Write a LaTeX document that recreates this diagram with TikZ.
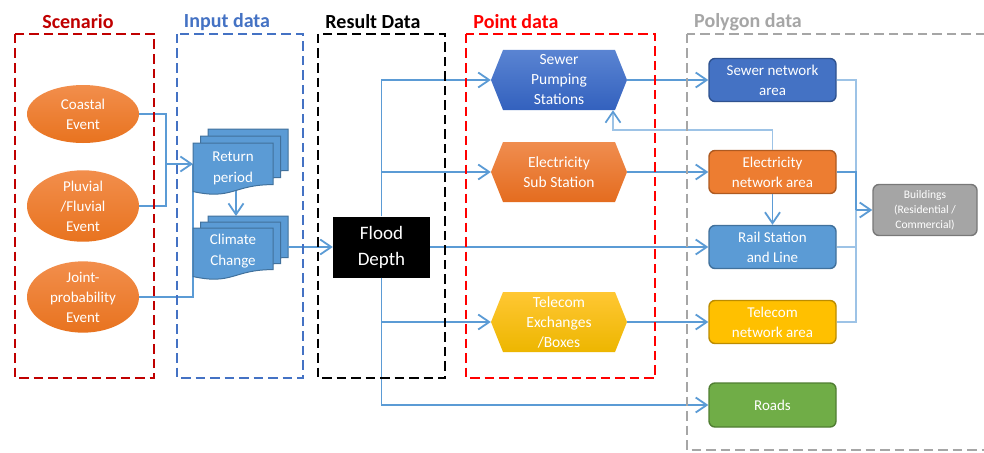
\documentclass[tikz,border=0pt]{standalone}
\usepackage{fontspec}
\setmainfont{Carlito}
\usetikzlibrary{arrows.meta,shapes.geometric,backgrounds}
\definecolor{scred}{HTML}{C00000}
\definecolor{inblue}{HTML}{4472C4}
\definecolor{ptred}{HTML}{FF0000}
\definecolor{pgray}{HTML}{A6A6A6}
\definecolor{lineblue}{HTML}{5B9BD5}
\definecolor{lightline}{HTML}{9DC3E6}
\definecolor{orL}{HTML}{F28E4C}
\definecolor{orD}{HTML}{E8731F}
\definecolor{docfill}{HTML}{5B9BD5}
\definecolor{docdraw}{HTML}{41719C}
\definecolor{snfill}{HTML}{4472C4}
\definecolor{sndraw}{HTML}{2F528F}
\definecolor{enfill}{HTML}{ED7D31}
\definecolor{endraw}{HTML}{AE5A21}
\definecolor{rlfill}{HTML}{5B9BD5}
\definecolor{rldraw}{HTML}{41719C}
\definecolor{tnfill}{HTML}{FFC000}
\definecolor{tndraw}{HTML}{BC8C00}
\definecolor{rdfill}{HTML}{70AD47}
\definecolor{rddraw}{HTML}{507E32}
\definecolor{bdfill}{HTML}{A5A5A5}
\definecolor{bddraw}{HTML}{787878}
\definecolor{spL}{HTML}{5A84D2}
\definecolor{spD}{HTML}{3361BE}
\definecolor{esL}{HTML}{F08D4F}
\definecolor{esD}{HTML}{E46C1F}
\definecolor{teL}{HTML}{FFC733}
\definecolor{teD}{HTML}{EDB600}
\newcommand\mydoc[4]{%
  \filldraw[fill=docfill,draw=docdraw,line width=1pt]
    (#1,#2) -- ({#1+#3},#2) -- ({#1+#3},{#2+0.8*#4})
    .. controls ({#1+0.5*#3},{#2+0.8*#4}) and ({#1+0.5*#3},{#2+1.1*#4}) ..
    (#1,{#2+0.934*#4}) -- cycle;}
\newcommand\myhex[5]{%
  \path[top color=#4,bottom color=#5]
    ({#2-68},#3) -- ({#2-56},{#3-30}) -- ({#2+56},{#3-30}) -- ({#2+68},#3)
    -- ({#2+56},{#3+30}) -- ({#2-56},{#3+30}) -- cycle;}
\begin{document}
\begin{tikzpicture}[x=1pt,y=-1pt,
  frame/.style={dash pattern=on 9.5pt off 5pt,line width=2.4pt},
  ttl/.style={font=\fontsize{20}{22}\selectfont\bfseries},
  ev/.style={ellipse,minimum width=112pt,minimum height=58pt,inner sep=0pt,
    top color=orL,bottom color=orD,text=white,align=center,
    font=\fontsize{15}{20}\selectfont},
  doctext/.style={text=white,align=center,font=\fontsize{15}{21}\selectfont},
  hextext/.style={minimum width=136pt,minimum height=60pt,inner sep=0pt,
    text=white,align=center,font=\fontsize{15.5}{20}\selectfont},
  pbox/.style={rectangle,rounded corners=6pt,minimum width=127pt,minimum height=43pt,
    inner sep=0pt,line width=1.4pt,text=white,align=center,
    font=\fontsize{15}{20}\selectfont},
  conn/.style={draw=lineblue,line width=1.8pt},
  lconn/.style={draw=lightline,line width=1.7pt},
  arr/.style={conn,-{Straight Barb[length=11pt,width=15pt]}},
  larr/.style={lconn,-{Straight Barb[length=11pt,width=15pt,color=lineblue]}}
]
\clip (0,0) rectangle (984,452);
\fill[white] (0,0) rectangle (984,452);

% scenario ellipses
\node[ev] (coastal) at (83,114) {Coastal\\Event};
\node[ev] (pluvial) at (83,206) {Pluvial\\/Fluvial\\Event};
\node[ev] (joint) at (83,297) {Joint-\\probability\\Event};

% input connectors
\coordinate (j1) at (166,164);
\coordinate (retin) at (193,164);
\draw[conn] (coastal.east) -| (j1);
\draw[conn] (pluvial.east) -| (j1);
\draw[conn] (joint.east) -| (retin);
\draw[arr] (j1) -- (retin);

% documents
\mydoc{208}{129}{80}{52}
\mydoc{200.5}{136}{80}{52}
\mydoc{193}{143}{80}{52}
\node[doctext] (ret) at (233,168) {Return\\period};
\mydoc{208}{216}{80}{52}
\mydoc{200.5}{222}{80}{52}
\mydoc{193}{228}{80}{52}
\node[doctext] (clim) at (233,251) {Climate\\Change};
\coordinate (retbot) at (236,191);
\coordinate (climtop) at (236,216);
\coordinate (climout) at (288,247);
\draw[arr] (retbot) -- (climtop);

% flood depth
\node[fill=black,minimum width=97pt,minimum height=61pt,inner sep=0pt,text=white,
  align=center,font=\fontsize{19}{26}\selectfont] (flood) at (381.5,247) {Flood\\Depth};
\draw[arr] (climout) -- (flood.west);

% hexagons
\myhex{sp}{559}{80}{spL}{spD}
\node[hextext] (sp) at (559,80) {Sewer\\Pumping\\Stations};
\myhex{es}{559}{172}{esL}{esD}
\node[hextext] (es) at (559,172) {Electricity\\Sub Station};
\myhex{te}{559}{322}{teL}{teD}
\node[hextext] (te) at (559,322) {Telecom\\Exchanges\\/Boxes};

% polygon boxes
\node[pbox,fill=snfill,draw=sndraw] (sn) at (772.5,80) {Sewer network\\area};
\node[pbox,fill=enfill,draw=endraw] (en) at (772.5,172) {Electricity\\network area};
\node[pbox,fill=rlfill,draw=rldraw] (rail) at (772.5,247) {Rail Station\\and Line};
\node[pbox,fill=tnfill,draw=tndraw] (tn) at (772.5,322) {Telecom\\network area};
\node[pbox,fill=rdfill,draw=rddraw,minimum height=44pt] (roads) at (772.5,405) {Roads};
\node[rectangle,rounded corners=6pt,minimum width=104pt,minimum height=51pt,inner sep=0pt,
  fill=bdfill,draw=bddraw,line width=1.4pt,text=white,align=center,
  font=\fontsize{11.5}{15}\selectfont] (bld) at (925,210) {Buildings\\(Residential /\\Commercial)};

% flood connectors
\draw[arr] (flood.north) |- (sp.west);
\draw[arr] (flood.north) |- (es.west);
\draw[arr] (flood.east) -- (rail.west);
\draw[arr] (flood.south) |- (te.west);
\draw[arr] (flood.south) |- (roads.west);

% point to polygon
\draw[arr] (sp.east) -- (sn.west);
\draw[arr] (es.east) -- (en.west);
\draw[arr] (te.east) -- (tn.west);

% polygon to buildings
\coordinate (bus) at (856,210);
\draw[lconn] (sn.east) -| (bus);
\draw[conn] (en.east) -| (bus);
\draw[lconn] (rail.east) -| (bus);
\draw[lconn] (tn.east) -| (bus);
\draw[arr] (bus) -- (bld.west);

% electricity network links
\draw[larr] (en.north) -- ++(0,-20) -| ([xshift=54pt]sp.south);
\draw[arr] (en.south) -- (rail.north);

% frames
\draw[frame,draw=scred] (15,34) rectangle (154,378);
\draw[frame,draw=inblue] (177,34) rectangle (303,378);
\draw[frame,draw=black] (318,34) rectangle (445,378);
\draw[frame,draw=ptred] (466,34) rectangle (655,378);
\draw[frame,draw=pgray] (687,34) rectangle (1000,450);

% titles
\node[ttl,text=scred] (t1) at (78,22) {Scenario};
\node[ttl,text=inblue] (t2) at (227,22) {Input data};
\node[ttl,text=black] (t3) at (373,22) {Result Data};
\node[ttl,text=ptred] (t4) at (516,22) {Point data};
\node[ttl,text=pgray] (t5) at (748,22) {Polygon data};
\end{tikzpicture}
\end{document}
